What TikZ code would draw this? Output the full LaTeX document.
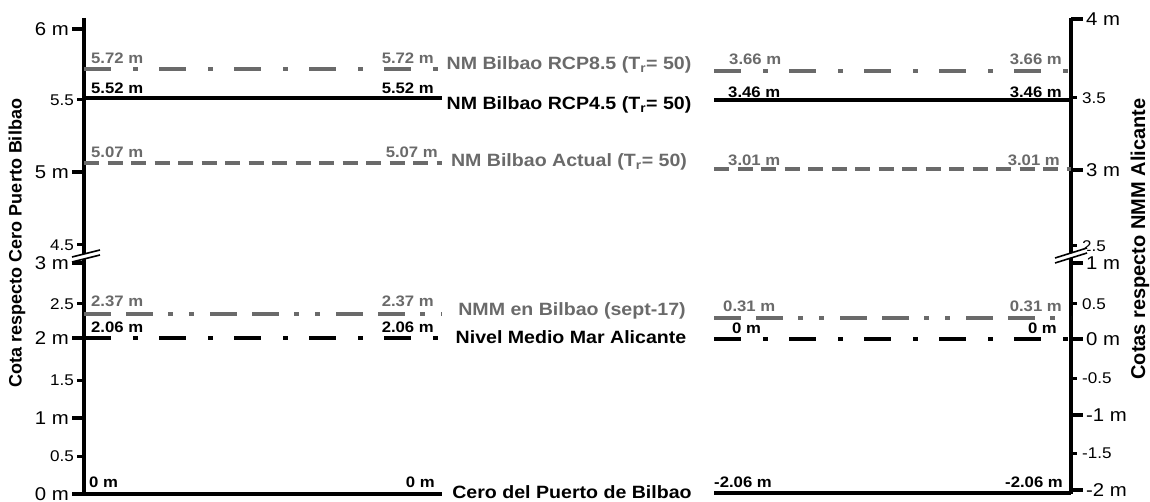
\documentclass[tikz,border=0pt]{standalone}
\usepackage{fontspec}
\setmainfont{Liberation Sans}
\newfontfamily\hfont{Liberation Sans}[FakeStretch=1.1]
\definecolor{lgray}{HTML}{6A6A6A}
\tikzset{
  axisline/.style={line width=3.5pt, black},
  bigtick/.style={line width=3.5pt, black},
  smalltick/.style={line width=3pt, black},
  ddot/.style={line width=4pt, dash pattern=on 27pt off 22pt on 5pt off 21pt},
  dsh/.style={line width=4pt, dash pattern=on 15pt off 8.5pt},
  ddd/.style={line width=4pt, dash pattern=on 27pt off 15pt on 27pt off 15pt on 5pt off 16pt on 5pt off 16pt},
  solidl/.style={line width=3.5pt},
  val/.style={inner sep=0pt, font=\hfont\bfseries\fontsize{15.2}{17}\selectfont},
  mid/.style={inner sep=0pt, font=\hfont\bfseries\fontsize{17.8}{20}\selectfont},
  bigl/.style={inner sep=0pt, font=\hfont\fontsize{18.5}{20}\selectfont},
  smalll/.style={inner sep=0pt, font=\hfont\fontsize{15.5}{17}\selectfont},
  brk/.style={line width=1.6pt, black},
  ttl/.style={inner sep=0pt, rotate=90, font=\bfseries\fontsize{18}{20}\selectfont}
}
\begin{document}
\begin{tikzpicture}[x=1pt,y=-1pt]
\useasboundingbox (0,0) rectangle (1150,502);
% axes
\coordinate (LT) at (84,18); \coordinate (LB) at (84,494);
\coordinate (RT) at (1071,18); \coordinate (RB) at (1071,494);
\draw[axisline] (LT) -- (LB);
\draw[axisline] (RT) -- (RB);
% left ticks
\foreach \y/\lab/\n in {29/6 m/a,172/5 m/b,263/3 m/c,338/2 m/d,418/1 m/e,494/0 m/f}{
  \coordinate (lt\n) at (72,\y); \coordinate (lu\n) at (84,\y);
  \draw[bigtick] (lt\n) -- (lu\n);
  \node[bigl, anchor=east] (ltl\n) at (69,\y) {\lab};
}
\foreach \y/\lab/\n in {100/5.5/a,245/4.5/b,304/2.5/c,380/1.5/d,456/0.5/e}{
  \coordinate (ls\n) at (77,\y); \coordinate (lv\n) at (84,\y);
  \draw[smalltick] (ls\n) -- (lv\n);
  \node[smalll, anchor=east] (lsl\n) at (74,\y) {\lab};
}
% right ticks
\foreach \y/\lab/\n in {19/4 m/a,170/3 m/b,263/1 m/c,339/0 m/d,415/-1 m/e,490/-2 m/f}{
  \coordinate (rt\n) at (1071,\y); \coordinate (ru\n) at (1083,\y);
  \draw[bigtick] (rt\n) -- (ru\n);
  \node[bigl, anchor=west] (rtl\n) at (1086,\y) {\lab};
}
\foreach \y/\lab/\n in {98/3.5/a,246/2.5/b,304/0.5/c,378/-0.5/d,453/-1.5/e}{
  \coordinate (rs\n) at (1071,\y); \coordinate (rv\n) at (1077,\y);
  \draw[smalltick] (rs\n) -- (rv\n);
  \node[smalll, anchor=west] (rsl\n) at (1082,\y) {\lab};
}
% axis breaks
\coordinate (b1) at (72,257); \coordinate (b2) at (100,250);
\coordinate (b3) at (100,255); \coordinate (b4) at (72,262);
\fill[white] (b1) -- (b2) -- (b3) -- (b4) -- cycle;
\draw[brk] (b1) -- (b2); \draw[brk] (b4) -- (b3);
\coordinate (c1) at (1055,258); \coordinate (c2) at (1087,248);
\coordinate (c3) at (1087,253); \coordinate (c4) at (1055,263);
\fill[white] (c1) -- (c2) -- (c3) -- (c4) -- cycle;
\draw[brk] (c1) -- (c2); \draw[brk] (c4) -- (c3);
% level lines left
\coordinate (A1) at (84,69);  \coordinate (A2) at (442,69);
\coordinate (B1) at (84,98);  \coordinate (B2) at (442,98);
\coordinate (C1) at (84,163); \coordinate (C2) at (442,163);
\coordinate (D1) at (84,314); \coordinate (D2) at (442,314);
\coordinate (E1) at (84,338); \coordinate (E2) at (442,338);
\coordinate (F1) at (84,494); \coordinate (F2) at (442,494);
\draw[ddot,lgray] (A1) -- (A2);
\draw[solidl,black] (B1) -- (B2);
\draw[dsh,lgray] (C1) -- (C2);
\draw[ddd,lgray] (D1) -- (D2);
\draw[ddot,black] (E1) -- (E2);
\draw[solidl,black] (F1) -- (F2);
% level lines right
\coordinate (A3) at (714,71);  \coordinate (A4) at (1071,71);
\coordinate (B3) at (714,100); \coordinate (B4) at (1071,100);
\coordinate (C3) at (714,169); \coordinate (C4) at (1071,169);
\coordinate (D3) at (714,318); \coordinate (D4) at (1071,318);
\coordinate (E3) at (714,339); \coordinate (E4) at (1071,339);
\coordinate (F3) at (714,493); \coordinate (F4) at (1071,493);
\draw[ddot,lgray] (A3) -- (A4);
\draw[solidl,black] (B3) -- (B4);
\draw[dsh,lgray] (C3) -- (C4);
\draw[ddd,lgray] (D3) -- (D4);
\draw[ddot,black] (E3) -- (E4);
\draw[solidl,black] (F3) -- (F4);
% value labels left
\node[val,lgray,anchor=base west] (va1) at (91,64) {5.72 m};
\node[val,lgray,anchor=base east] (va2) at (434,64) {5.72 m};
\node[val,black,anchor=base west] (vb1) at (91,94) {5.52 m};
\node[val,black,anchor=base east] (vb2) at (434,94) {5.52 m};
\node[val,lgray,anchor=base west] (vc1) at (91,158) {5.07 m};
\node[val,lgray,anchor=base east] (vc2) at (438,158) {5.07 m};
\node[val,lgray,anchor=base west] (vd1) at (91,307) {2.37 m};
\node[val,lgray,anchor=base east] (vd2) at (434,307) {2.37 m};
\node[val,black,anchor=base west] (ve1) at (91,332) {2.06 m};
\node[val,black,anchor=base east] (ve2) at (434,332) {2.06 m};
\node[val,black,anchor=base west] (vf1) at (89,487) {0 m};
\node[val,black,anchor=base east] (vf2) at (435,487) {0 m};
% value labels right
\node[val,lgray,anchor=base west] (wa1) at (729,65) {3.66 m};
\node[val,lgray,anchor=base east] (wa2) at (1062,65) {3.66 m};
\node[val,black,anchor=base west] (wb1) at (728,98) {3.46 m};
\node[val,black,anchor=base east] (wb2) at (1062,98) {3.46 m};
\node[val,lgray,anchor=base west] (wc1) at (728,166) {3.01 m};
\node[val,lgray,anchor=base east] (wc2) at (1060,166) {3.01 m};
\node[val,lgray,anchor=base west] (wd1) at (723,312) {0.31 m};
\node[val,lgray,anchor=base east] (wd2) at (1062,312) {0.31 m};
\node[val,black,anchor=base west] (we1) at (732,333) {0 m};
\node[val,black,anchor=base east] (we2) at (1057,333) {0 m};
\node[val,black,anchor=base west] (wf1) at (714,487) {-2.06 m};
\node[val,black,anchor=base east] (wf2) at (1063,487) {-2.06 m};
% middle labels
\node[mid,lgray,anchor=base] (m1) at (569,70) {NM Bilbao RCP8.5 (T\textsubscript{r}= 50)};
\node[mid,black,anchor=base] (m2) at (569,110) {NM Bilbao RCP4.5 (T\textsubscript{r}= 50)};
\node[mid,lgray,anchor=base] (m3) at (569,167) {NM Bilbao Actual (T\textsubscript{r}= 50)};
\node[mid,lgray,anchor=base] (m4) at (572,316) {NMM en Bilbao (sept-17)};
\node[mid,black,anchor=base] (m5) at (571,343) {Nivel Medio Mar Alicante};
\node[mid,black,anchor=base] (m6) at (572,498) {Cero del Puerto de Bilbao};
% axis titles
\node[ttl] (tl) at (17,243) {Cota respecto Cero Puerto Bilbao};
\node[ttl, font=\bfseries\fontsize{20}{22}\selectfont] (tr) at (1140,239) {Cotas respecto NMM Alicante};
\end{tikzpicture}
\end{document}
